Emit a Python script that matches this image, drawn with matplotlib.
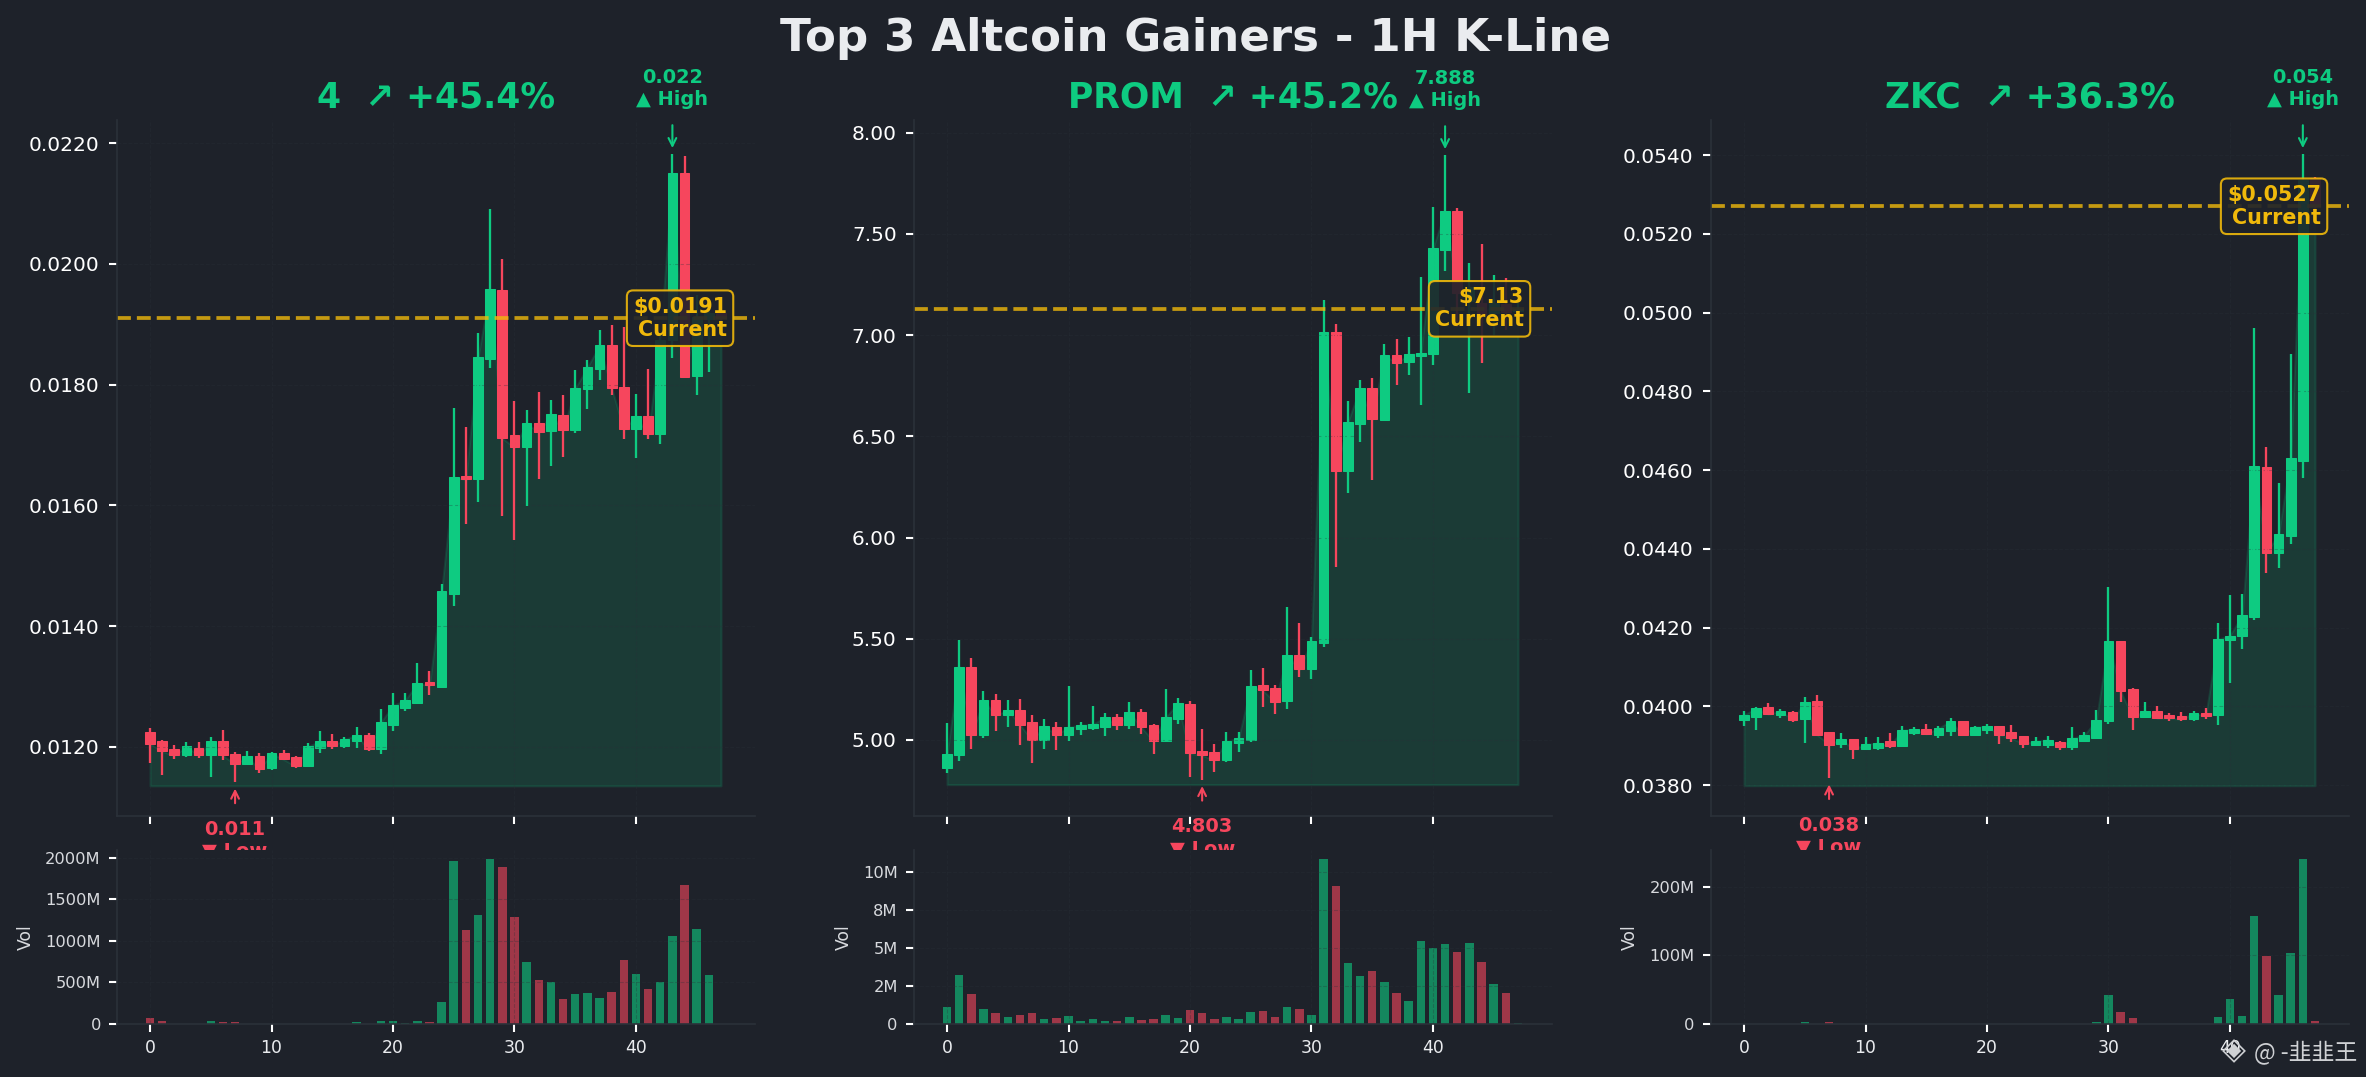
import matplotlib
matplotlib.use("Agg")
from matplotlib import pyplot as plt
from matplotlib.ticker import FuncFormatter

BG = "#1e222a"
GREEN = "#0ecb81"
RED = "#f6465d"
GOLD = "#f0b90b"
SPINE = "#2b3139"

plt.rcParams["font.family"] = ["DejaVu Sans", "Noto Sans CJK SC"]

# ---- 4 ----
open1 = [.012237,.012088,.011956,.011856,.011983,.011856,.012088,.011873,.011707,.011840,.011641,.011890,.011823,.011674,.011972,.012088,
         .012006,.012088,.012188,.011956,.012353,.012635,.012718,.013066,.012996,.014535,.016485,.016430,.018418,.019562,.017159,.016960,
         .017358,.017226,.017491,.017242,.017921,.018253,.018650,.017955,.017259,.017474,.017176,.018739,.021500,.018142,.019080,.019180]
high1 = [.012304,.012110,.012022,.012072,.012072,.012155,.012271,.011906,.011923,.011890,.011906,.011939,.011840,.012055,.012254,.012204,
         .012155,.012320,.012221,.012619,.012884,.012884,.013381,.013248,.014696,.017607,.017303,.018849,.020904,.020075,.017723,.017574,
         .017872,.017739,.017822,.018236,.018402,.018899,.018982,.018960,.017839,.018253,.018850,.021815,.021782,.019484,.019250,.019200]
low1 = [.011724,.011525,.011790,.011823,.011807,.011492,.011774,.011409,.011691,.011558,.011608,.011785,.011641,.011658,.011890,.011956,
        .011972,.011972,.011923,.011873,.012265,.012585,.012718,.012851,.012980,.014336,.015685,.016049,.018269,.015817,.015420,.015983,
        .016430,.016646,.016795,.017192,.017590,.018071,.017822,.017093,.016778,.017093,.017010,.018435,.018104,.017822,.018203,.019050]
close1 = [.012050,.011923,.011856,.012006,.011856,.012088,.011856,.011707,.011840,.011624,.011890,.011790,.011674,.012006,.012088,.012006,
          .012122,.012188,.011956,.012403,.012685,.012768,.013049,.013016,.014575,.016463,.016430,.018452,.019578,.017110,.016960,.017358,
          .017209,.017507,.017242,.017938,.018286,.018650,.017938,.017259,.017474,.017176,.018739,.021500,.018131,.019125,.019180,.019100]
vol1 = [72,36,3,3,3,36,24,24,2,2,2,2,2,2,2,3,3,24,5,36,36,8,36,24,
        265,1964,1133,1313,1988,1892,1289,747,530,506,301,361,373,313,385,771,602,422,506,1060,1675,1145,590,2]

# ---- PROM ----
open2 = [4.863,4.924,5.361,5.026,5.196,5.122,5.147,5.087,4.998,5.063,5.026,5.053,5.058,5.063,5.112,5.073,
         5.137,5.073,4.993,5.102,5.176,4.944,4.939,4.900,4.984,5.000,5.270,5.255,5.191,5.418,5.349,5.478,
         7.016,6.327,6.559,6.739,6.579,6.902,6.866,6.895,6.905,7.419,7.612,7.170,7.157,7.108,7.154,7.120]
high2 = [5.083,5.494,5.405,5.242,5.226,5.196,5.201,5.122,5.102,5.087,5.265,5.087,5.166,5.132,5.127,5.186,
         5.152,5.077,5.250,5.206,5.191,5.053,4.979,5.038,5.038,5.344,5.354,5.270,5.659,5.577,5.507,7.174,
         7.055,6.675,6.779,6.788,6.956,6.981,6.991,7.287,7.633,7.888,7.627,7.355,7.449,7.297,7.282,7.160]
low2 = [4.835,4.895,4.954,5.007,5.046,5.066,4.974,4.885,4.954,4.949,4.993,5.023,5.048,5.017,5.048,5.053,
        5.028,4.929,4.989,5.077,4.816,4.803,4.840,4.890,4.939,4.989,5.161,5.127,5.152,5.313,5.300,5.461,
        5.856,6.222,6.474,6.283,6.579,6.754,6.803,6.653,6.853,7.317,7.040,6.716,6.861,7.000,7.026,7.080]
close2 = [4.929,5.361,5.026,5.196,5.122,5.147,5.076,4.998,5.068,5.026,5.063,5.073,5.077,5.112,5.073,5.137,
          5.063,4.993,5.112,5.181,4.934,4.924,4.900,4.993,5.008,5.265,5.245,5.186,5.418,5.349,5.488,7.016,
          6.327,6.571,6.739,6.584,6.902,6.861,6.905,6.910,7.429,7.612,7.207,7.240,7.100,7.157,7.116,7.130]
vol2 = [1.12,3.22,1.97,.99,.72,.46,.59,.72,.33,.39,.53,.20,.33,.20,.20,.46,.26,.33,.59,.39,.92,.72,.33,.46,
        .33,.79,.86,.46,1.12,.99,.59,10.86,9.08,4.01,3.16,3.49,2.76,2.04,1.51,5.46,5.00,5.26,4.74,5.33,4.08,2.63,2.04,.05]

# ---- ZKC ----
open3 = [.039669,.039728,.039982,.039796,.039855,.039677,.040134,.039347,.039051,.039170,.038924,.038941,.039119,.039009,.039339,.039423,
         .039271,.039381,.039626,.039279,.039398,.039499,.039347,.039246,.039034,.039026,.039102,.038966,.039136,.039195,.039626,.041657,
         .040439,.039728,.039897,.039779,.039753,.039677,.039830,.039779,.041682,.041784,.042266,.046073,.043907,.044322,.046242,.053408]
high3 = [.039889,.039990,.040083,.039931,.039889,.040235,.040286,.039350,.039322,.039175,.039220,.039220,.039322,.039499,.039474,.039559,
         .039499,.039703,.039630,.039508,.039559,.039505,.039533,.039250,.039220,.039246,.039127,.039474,.039347,.039906,.043027,.041660,
         .040464,.040109,.040007,.039830,.039855,.039880,.039956,.042114,.042824,.042850,.049601,.046581,.045667,.048941,.054017,.053450]
low3 = [.039516,.039415,.039800,.039703,.039618,.039085,.039284,.038180,.038958,.038662,.038899,.038899,.038950,.038983,.039288,.039280,
        .039212,.039263,.039280,.039263,.039313,.039060,.039110,.038958,.039009,.038958,.038907,.038907,.039093,.039190,.039550,.040109,
        .039398,.039703,.039677,.039627,.039644,.039627,.039677,.039525,.040591,.041454,.042190,.043400,.043527,.044136,.045794,.052600]
close3 = [.039787,.039956,.039804,.039889,.039669,.040109,.039288,.039034,.039178,.038916,.039043,.039068,.039000,.039398,.039432,.039305,
          .039449,.039626,.039288,.039482,.039499,.039288,.039195,.039060,.039127,.039153,.038966,.039195,.039271,.039652,.041657,.040388,
          .039728,.039897,.039703,.039703,.039677,.039830,.039753,.041708,.041801,.042317,.046098,.043907,.044373,.046301,.053370,.052700]
vol3 = [.5,.5,.5,.5,.5,3,.5,3,.5,.5,.5,.5,.5,.5,.5,.5,.5,.5,.5,.5,.5,.5,.5,.5,
        .5,.5,.5,.5,.5,3,42,17.5,8.8,.5,.5,.5,.5,.5,.5,10,36.5,11.7,157.7,99,42,103.6,241,4.4]

names = ["4", "PROM", "ZKC"]
gains = ["+45.4%", "+45.2%", "+36.3%"]
currents = [0.0191, 7.13, 0.0527]
current_labels = ["$0.0191", "$7.13", "$0.0527"]
price_ticks = [[.012, .014, .016, .018, .020, .022],
               [5.0, 5.5, 6.0, 6.5, 7.0, 7.5, 8.0],
               [.038, .040, .042, .044, .046, .048, .050, .052, .054]]
price_fmt = ["%.4f", "%.2f", "%.4f"]
price_lims = [(.010852, .022384), (4.624, 8.063), (.03722, .05489)]
vol_ticks = [[0, 500, 1000, 1500, 2000], [0, 2.5, 5, 7.5, 10], [0, 100, 200]]
vol_tops = [2096, 11.45, 254]
x_ticks = [0, 10, 20, 30, 40]

opens = [open1, open2, open3]
highs = [high1, high2, high3]
lows = [low1, low2, low3]
closes = [close1, close2, close3]
vols = [vol1, vol2, vol3]

W, H = 2366, 1077
fig = plt.figure(figsize=(W / 150, H / 150), dpi=150, facecolor=BG)


def px_axes(left, top, right, bottom):
    return fig.add_axes([left / W, 1 - bottom / H, (right - left) / W, (bottom - top) / H], facecolor=BG)


def style(ax):
    ax.spines["top"].set_visible(False)
    ax.spines["right"].set_visible(False)
    ax.spines["left"].set_color(SPINE)
    ax.spines["bottom"].set_color(SPINE)
    ax.grid(True, color=SPINE, alpha=0.3, linestyle="--", linewidth=0.5)
    ax.set_axisbelow("line")
    ax.set_xlim(-2.72, 49.8)
    ax.set_xticks(x_ticks)
    ax.tick_params(colors="white", width=1, length=3.8)


lefts = [117, 914, 1711]
for n in range(3):
    o, h, l, c, v = opens[n], highs[n], lows[n], closes[n], vols[n]
    x = list(range(len(c)))
    colors = [GREEN if c[i] >= o[i] else RED for i in x]

    ax = px_axes(lefts[n], 120, lefts[n] + 638, 816)
    style(ax)

    base = min(l) * 0.995
    ax.fill_between(x, c, base, color=GREEN, alpha=0.15)
    ax.vlines(x, l, h, colors=colors, linewidth=1.1)
    ax.bar(x, [abs(c[i] - o[i]) for i in x], bottom=[min(o[i], c[i]) for i in x], width=0.8,
           color=colors, edgecolor=colors, linewidth=0.5)
    ax.axhline(currents[n], color=GOLD, alpha=0.8, linestyle="--", linewidth=1.8)

    ax.set_ylim(*price_lims[n])
    ax.set_yticks(price_ticks[n])
    ax.yaxis.set_major_formatter(FuncFormatter(lambda val, pos, f=price_fmt[n]: f % val))
    ax.tick_params(axis="y", labelsize=9.7, pad=4.5)
    ax.tick_params(axis="x", labelbottom=False)

    ax.text(0.5, 1.033, f"{names[n]}  ↗ {gains[n]}", transform=ax.transAxes, ha="center", va="center",
            color=GREEN, fontsize=16.6, fontweight="bold")

    i_high = h.index(max(h))
    ax.annotate(f"{h[i_high]:.3f}\n▲ High", xy=(i_high, h[i_high]), xytext=(0, 22), textcoords="offset points",
                ha="center", va="bottom", color=GREEN, fontsize=9.3, fontweight="bold", annotation_clip=False,
                arrowprops=dict(arrowstyle="->", color=GREEN, lw=1, shrinkA=6, shrinkB=3))
    i_low = l.index(min(l))
    ax.annotate(f"{l[i_low]:.3f}\n▼ Low", xy=(i_low, l[i_low]), xytext=(0, -18), textcoords="offset points",
                ha="center", va="top", color=RED, fontsize=9.3, fontweight="bold", annotation_clip=False,
                arrowprops=dict(arrowstyle="->", color=RED, lw=1, shrinkA=6, shrinkB=3))

    ax.text(47.5, currents[n], f"{current_labels[n]}\nCurrent", ha="right", va="center", color=GOLD,
            fontsize=9.9, fontweight="bold", zorder=6,
            bbox=dict(boxstyle="round,pad=0.3", facecolor=BG, edgecolor=GOLD, alpha=0.9, linewidth=1))

    # volume panel sits on top, it cuts off the Low label like the original
    vax = px_axes(lefts[n], 850, lefts[n] + 638, 1024)
    style(vax)
    vax.bar(x, v, width=0.7, color=colors, alpha=0.6)
    vax.set_ylim(0, vol_tops[n])
    vax.set_yticks(vol_ticks[n])
    vax.yaxis.set_major_formatter(FuncFormatter(lambda val, pos: "0" if val == 0 else f"{val:.0f}M"))
    vax.tick_params(axis="y", labelsize=7.8, labelcolor="#d8dade", pad=4)
    vax.tick_params(axis="x", labelsize=8.3, labelcolor="#eaecef")
    vax.set_ylabel("Vol", color="#d8dade", fontsize=8.3, labelpad=5)

fig.text(1196 / W, 1 - 38 / H, "Top 3 Altcoin Gainers - 1H K-Line", ha="center", va="center",
         color="#eaecef", fontsize=21.7, fontweight="bold")

# watermark bottom right
fig.text(2234 / W, 1 - 1051 / H, "◈", ha="center", va="center", color="#cfd1d4", fontsize=15)
fig.text(2254 / W, 1 - 1052 / H, "@ -韭韭王", ha="left", va="center", color="#cfd1d4", fontsize=11,
         family=["Noto Sans CJK SC", "DejaVu Sans"])

fig.savefig("out.png", dpi=150, facecolor=BG)
